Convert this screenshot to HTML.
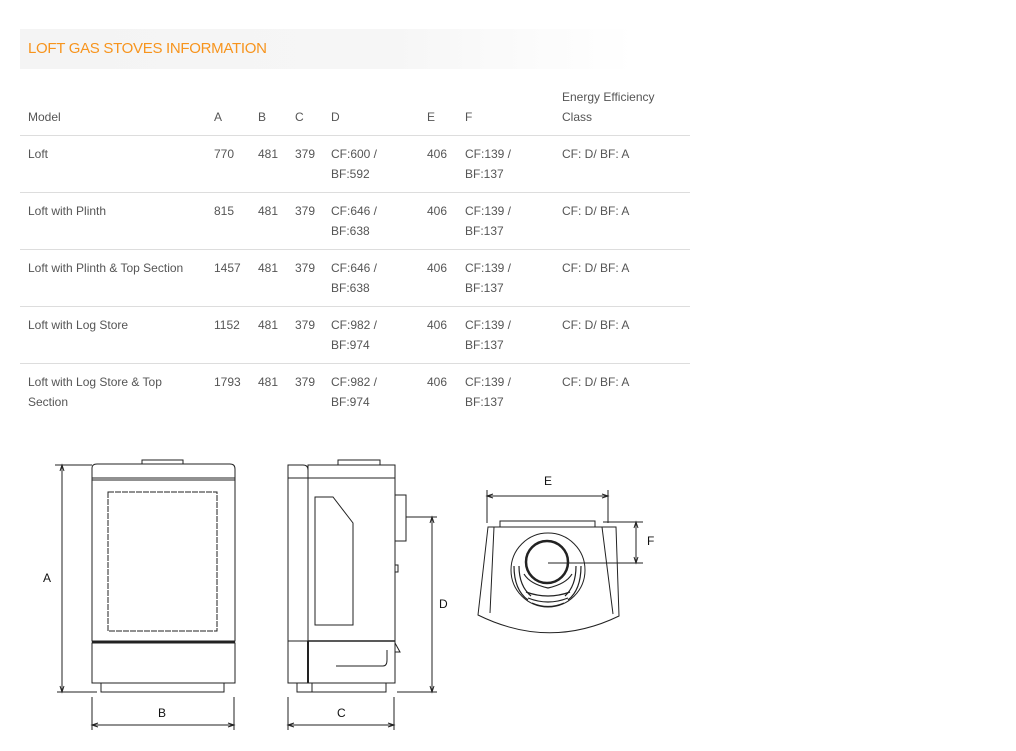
<!DOCTYPE html>
<html><head><meta charset="utf-8"><style>
body{margin:0;width:1016px;height:751px;background:#fff;font-family:"Liberation Sans",sans-serif;position:relative;overflow:hidden}
.hdr{position:absolute;left:20px;top:29px;width:615px;height:40px;background:linear-gradient(90deg,#f4f4f4 0%,#f6f6f6 60%,#fff 100%)}
.hdr span{position:absolute;left:8px;top:11px;font-size:15px;color:#f7941d;letter-spacing:-0.3px}
.t{position:absolute;font-size:12px;color:#555;line-height:20px;white-space:nowrap}
.ln{position:absolute;left:20px;width:670px;height:1px;background:#ddd}
</style></head><body>
<div class="hdr"><span>LOFT GAS STOVES INFORMATION</span></div>

<div class="t" style="left:28px;top:107px">Model</div>
<div class="t" style="left:214px;top:107px">A</div>
<div class="t" style="left:258px;top:107px">B</div>
<div class="t" style="left:295px;top:107px">C</div>
<div class="t" style="left:331px;top:107px">D</div>
<div class="t" style="left:427px;top:107px">E</div>
<div class="t" style="left:465px;top:107px">F</div>
<div class="t" style="left:562px;top:87px">Energy Efficiency<br>Class</div>
<div class="ln" style="top:135px"></div>

<div class="t" style="left:28px;top:144px">Loft</div>
<div class="t" style="left:214px;top:144px">770</div>
<div class="t" style="left:258px;top:144px">481</div>
<div class="t" style="left:295px;top:144px">379</div>
<div class="t" style="left:331px;top:144px">CF:600 /<br>BF:592</div>
<div class="t" style="left:427px;top:144px">406</div>
<div class="t" style="left:465px;top:144px">CF:139 /<br>BF:137</div>
<div class="t" style="left:562px;top:144px">CF: D/ BF: A</div>
<div class="ln" style="top:192px"></div>

<div class="t" style="left:28px;top:201px">Loft with Plinth</div>
<div class="t" style="left:214px;top:201px">815</div>
<div class="t" style="left:258px;top:201px">481</div>
<div class="t" style="left:295px;top:201px">379</div>
<div class="t" style="left:331px;top:201px">CF:646 /<br>BF:638</div>
<div class="t" style="left:427px;top:201px">406</div>
<div class="t" style="left:465px;top:201px">CF:139 /<br>BF:137</div>
<div class="t" style="left:562px;top:201px">CF: D/ BF: A</div>
<div class="ln" style="top:249px"></div>

<div class="t" style="left:28px;top:258px">Loft with Plinth &amp; Top Section</div>
<div class="t" style="left:214px;top:258px">1457</div>
<div class="t" style="left:258px;top:258px">481</div>
<div class="t" style="left:295px;top:258px">379</div>
<div class="t" style="left:331px;top:258px">CF:646 /<br>BF:638</div>
<div class="t" style="left:427px;top:258px">406</div>
<div class="t" style="left:465px;top:258px">CF:139 /<br>BF:137</div>
<div class="t" style="left:562px;top:258px">CF: D/ BF: A</div>
<div class="ln" style="top:306px"></div>

<div class="t" style="left:28px;top:315px">Loft with Log Store</div>
<div class="t" style="left:214px;top:315px">1152</div>
<div class="t" style="left:258px;top:315px">481</div>
<div class="t" style="left:295px;top:315px">379</div>
<div class="t" style="left:331px;top:315px">CF:982 /<br>BF:974</div>
<div class="t" style="left:427px;top:315px">406</div>
<div class="t" style="left:465px;top:315px">CF:139 /<br>BF:137</div>
<div class="t" style="left:562px;top:315px">CF: D/ BF: A</div>
<div class="ln" style="top:363px"></div>

<div class="t" style="left:28px;top:372px">Loft with Log Store &amp; Top<br>Section</div>
<div class="t" style="left:214px;top:372px">1793</div>
<div class="t" style="left:258px;top:372px">481</div>
<div class="t" style="left:295px;top:372px">379</div>
<div class="t" style="left:331px;top:372px">CF:982 /<br>BF:974</div>
<div class="t" style="left:427px;top:372px">406</div>
<div class="t" style="left:465px;top:372px">CF:139 /<br>BF:137</div>
<div class="t" style="left:562px;top:372px">CF: D/ BF: A</div>

<svg style="position:absolute;left:0;top:0" width="1016" height="751" viewBox="0 0 1016 751" fill="none" stroke="#222" stroke-width="1">
<g font-family="Liberation Sans,sans-serif" font-size="12" fill="#111" stroke="none">
<text x="43" y="582">A</text><text x="158" y="717">B</text><text x="337" y="717">C</text>
<text x="439" y="608">D</text><text x="544" y="485">E</text><text x="647" y="545">F</text>
</g>
<rect x="142" y="460" width="41" height="4"/>
<path d="M92 478 V468 Q92 464 97 464 H230 Q235 464 235 469 V478 Z"/>
<rect x="92" y="478" width="143" height="163"/>
<line x1="92" y1="480" x2="235" y2="480"/>
<rect x="108" y="492" width="109" height="139" stroke-dasharray="6 1"/>
<line x1="92" y1="642" x2="235" y2="642" stroke-width="1.5"/>
<rect x="92" y="643" width="143" height="40"/>
<rect x="101" y="683" width="123" height="9"/>
<line x1="55" y1="465" x2="92" y2="465"/><line x1="57" y1="692" x2="97" y2="692"/>
<line x1="62" y1="465" x2="62" y2="692"/>
<path d="M60 471 L62 465 L64 471 M60 686 L62 692 L64 686"/>
<line x1="92" y1="697" x2="92" y2="730"/><line x1="234" y1="697" x2="234" y2="730"/>
<line x1="92" y1="725" x2="234" y2="725"/>
<path d="M98 723 L92 725 L98 727 M228 723 L234 725 L228 727"/>
<rect x="338" y="460" width="42" height="5"/>
<path d="M288 478 V465 H303 Q308 465 308 470 V478"/>
<rect x="288" y="478" width="20" height="163"/>
<rect x="308" y="465" width="87" height="176"/>
<line x1="308" y1="478" x2="395" y2="478"/>
<path d="M315 497 H333 L353 523 V625 H315 Z"/>
<rect x="395" y="495" width="11" height="46"/>
<rect x="395" y="565" width="3" height="7"/>
<rect x="288" y="641" width="107" height="42"/>
<line x1="308" y1="641" x2="308" y2="683" stroke-width="2"/>
<line x1="308" y1="641" x2="395" y2="641" stroke-width="1.5"/>
<path d="M336 666 H383 Q387 666 387 660 V650"/>
<path d="M395 643 L400 652 H395"/>
<rect x="297" y="683" width="15" height="9"/><rect x="312" y="683" width="74" height="9"/>
<line x1="406" y1="517" x2="437" y2="517"/><line x1="397" y1="692" x2="437" y2="692"/>
<line x1="432" y1="517" x2="432" y2="692"/>
<path d="M430 523 L432 517 L434 523 M430 686 L432 692 L434 686"/>
<line x1="288" y1="697" x2="288" y2="730"/><line x1="394" y1="697" x2="394" y2="730"/>
<line x1="288" y1="725" x2="394" y2="725"/>
<path d="M294 723 L288 725 L294 727 M388 723 L394 725 L388 727"/>
<line x1="487" y1="490" x2="487" y2="523"/><line x1="608" y1="490" x2="608" y2="523"/>
<line x1="487" y1="496" x2="608" y2="496"/>
<path d="M493 494 L487 496 L493 498 M602 494 L608 496 L602 498"/>
<rect x="500" y="521" width="95" height="6"/>
<path d="M488 527 H602 L616 527 L619 616 Q549 650 478 615 Z"/>
<path d="M494 527 L490 613 M602 527 L613 614"/>
<circle cx="548" cy="570" r="37"/>
<circle cx="547" cy="562" r="21" stroke-width="2.5"/>
<g stroke-width="1.2">
<path d="M514 566 Q514 590 528 600 M519 566 Q519 586 531 596 M581 566 Q581 590 568 600 M576 566 Q576 586 565 596"/>
<path d="M524 574 Q530 584 548 588 Q566 584 572 574"/>
<path d="M526 592 Q548 600 570 592 M528 598 Q548 606 568 598 M532 603 Q548 610 564 603"/>
</g>
<line x1="603" y1="522" x2="643" y2="522"/><line x1="548" y1="563" x2="643" y2="563"/>
<line x1="636" y1="522" x2="636" y2="563"/>
<path d="M634 528 L636 522 L638 528 M634 557 L636 563 L638 557"/>
</svg>
</body></html>
